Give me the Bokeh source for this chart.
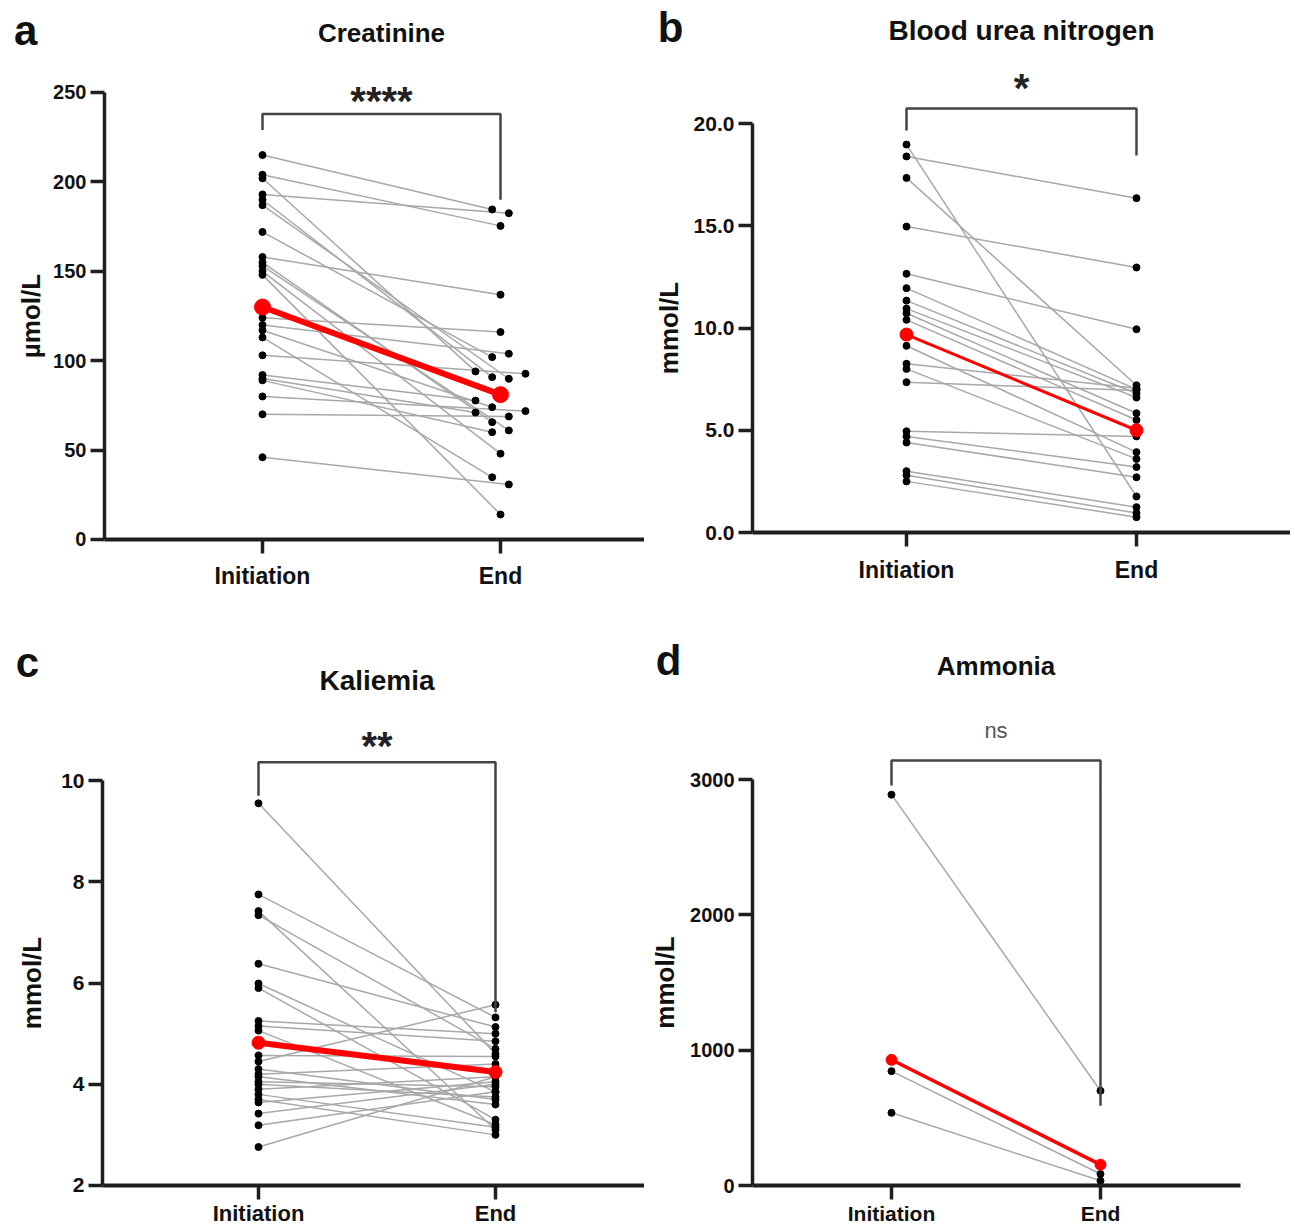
from bokeh.plotting import figure
from bokeh.models import FixedTicker, Label, Range1d, LinearAxis
from bokeh.layouts import column, row
from bokeh.embed import file_html
from bokeh.resources import INLINE

categories = ["Initiation", "End"]

# ---- a: Creatinine (µmol/L)
creat_init = [215, 204, 193, 202, 190, 187, 172, 158, 155, 153, 148, 124, 120, 117, 113, 103, 92, 90, 89, 80, 70, 46, 150]
creat_end = [184.6, 175.4, 182.5, 94, 90.8, 89.9, 102, 136.9, 65.6, 61, 14, 116, 103.9, 74, 34.8, 92.7, 77.7, 71, 60, 71.8, 68.8, 30.8, 48]
creat_end_jitter = [-0.035, 0, 0.035, -0.105, -0.035, 0.035, -0.035, 0, -0.035, 0.035, 0, 0, 0.035, -0.035, -0.035, 0.105, -0.105, -0.105, -0.035, 0.105, 0.035, 0.035, 0]
creat_mean = [130, 81]

# ---- b: Blood urea nitrogen (mmol/L)
bun_init = [18.97, 18.39, 17.34, 14.96, 12.65, 11.95, 11.34, 10.95, 10.72, 10.4, 9.13, 8.25, 8.0, 7.35, 4.95, 4.7, 4.4, 3.0, 2.8, 2.5]
bun_end = [1.76, 16.35, 7.2, 12.96, 9.94, 7.0, 6.8, 6.6, 5.83, 5.5, 3.93, 7.05, 3.6, 6.95, 4.7, 3.2, 2.7, 1.24, 0.95, 0.75]
bun_mean = [9.68, 5.0]

# ---- c: Kaliemia (mmol/L)
kal_init = [9.55, 7.75, 7.42, 7.34, 6.38, 5.99, 5.90, 5.25, 5.15, 5.06, 4.57, 4.45, 4.30, 4.20, 4.15, 4.05, 4.00, 3.90, 3.80, 3.70, 3.64, 3.42, 3.19, 2.76]
kal_end = [4.60, 5.32, 3.10, 4.70, 5.13, 3.85, 3.30, 5.00, 4.85, 3.20, 4.55, 5.57, 3.70, 4.40, 3.60, 3.95, 3.75, 4.15, 3.15, 3.00, 4.05, 4.00, 3.85, 4.15]
kal_mean = [4.82, 4.24]

# ---- d: Ammonia (mmol/L)
amm_init = [2888, 845, 537]
amm_end = [700, 85, 35]
amm_mean = [929, 154]

FONT = "Liberation Sans"
AX = "#1f1f1f"


def panel(cfg, init, end, mean, jitter):
    W, H = cfg["size"]
    p = figure(width=W, height=H, x_range=Range1d(*cfg["xr"]), y_range=Range1d(*cfg["yr"]),
               output_backend="svg", toolbar_location=None,
               x_axis_location=None, y_axis_location=None,
               min_border_left=0, min_border_right=0, min_border_top=0, min_border_bottom=0)
    p.outline_line_color = None
    p.grid.visible = False
    p.background_fill_color = "white"
    p.border_fill_color = "white"

    xe = [1 + j for j in jitter]
    xs = [[0, e] for e in xe]
    ys = [[a, b] for a, b in zip(init, end)]
    p.multi_line(xs, ys, line_color="#a8a8a8", line_width=1.5)
    p.scatter([0] * len(init), init, size=7, color="black")
    p.scatter(xe, end, size=7, color="black")
    p.line([0, 1], mean, line_color="red", line_width=cfg["red_w"])
    p.scatter([0, 1], mean, size=cfg["red_s"], color="red")

    br = cfg["bracket"]
    p.line([0, 0, 1, 1], [br[1], br[0], br[0], br[2]], line_color="#444444", line_width=2.5)

    sig_size, sig_style, sig_color = cfg["sig_style"]
    p.add_layout(Label(x=0.5, y=cfg["sig_y"], text=cfg["sig"], text_align="center",
                       text_baseline="middle", text_font=FONT, text_font_size=sig_size,
                       text_font_style=sig_style, text_color=sig_color))
    p.add_layout(Label(x=0.5, y=cfg["title_y"], text=cfg["title"], text_align="center",
                       text_baseline="middle", text_font=FONT, text_font_size=cfg["title_size"],
                       text_font_style="bold", text_color="#111111"))
    lx, ly = cfg["letter_xy"]
    p.add_layout(Label(x=lx, y=ly, text=cfg["letter"], text_align="center",
                       text_baseline="middle", text_font=FONT, text_font_size="42px",
                       text_font_style="bold", text_color="#111111"))

    yt = cfg["yticks"]
    ya = LinearAxis(fixed_location=cfg["yaxis_x"], bounds=cfg["ybounds"],
                    ticker=FixedTicker(ticks=yt),
                    major_label_overrides={t: l for t, l in zip(yt, cfg["ylabels"])},
                    axis_label=cfg["ylabel"], axis_label_text_font=FONT,
                    axis_label_text_font_size="26px", axis_label_text_font_style="bold",
                    axis_label_text_color="#111111",
                    axis_label_standoff=cfg["label_standoff"],
                    major_label_text_font=FONT, major_label_text_font_size=cfg["tick_size"],
                    major_label_text_font_style="bold", major_label_text_color="#111111",
                    major_label_standoff=4,
                    axis_line_width=3.5, axis_line_color=AX,
                    major_tick_line_width=3.5, major_tick_line_color=AX,
                    major_tick_out=14, major_tick_in=0, minor_tick_line_color=None)
    p.add_layout(ya, "left")

    xa = LinearAxis(fixed_location=cfg["ybounds"][0], bounds=(cfg["yaxis_x"], cfg["xaxis_end"]),
                    ticker=FixedTicker(ticks=[0, 1]),
                    major_label_overrides={0: categories[0], 1: categories[1]},
                    major_label_text_font=FONT, major_label_text_font_size=cfg["xlab_size"],
                    major_label_text_font_style="bold", major_label_text_color="#111111",
                    major_label_standoff=cfg["xlab_standoff"],
                    axis_line_width=4, axis_line_color=AX,
                    major_tick_line_width=3.5, major_tick_line_color=AX,
                    major_tick_out=14, major_tick_in=0, minor_tick_line_color=None)
    p.add_layout(xa, "below")
    return p


cfg_a = dict(size=(644, 600), xr=(-1.1008, 1.6050), yr=(-34.12, 301.45),
             yaxis_x=-0.6639, xaxis_end=1.605, ybounds=(0, 250),
             yticks=[0, 50, 100, 150, 200, 250], ylabels=["0", "50", "100", "150", "200", "250"],
             ylabel="µmol/L", label_standoff=4, tick_size="20px", xlab_size="23px", xlab_standoff=10,
             bracket=(238, 229, 190), sig="****", sig_y=245.0, sig_style=("40px", "bold", "#222222"),
             title="Creatinine", title_y=283, title_size="26px",
             letter="a", letter_xy=(-0.995, 284.7), red_w=6, red_s=16)

cfg_b = dict(size=(646, 600), xr=(-1.1391, 1.6696), yr=(-3.325, 26.015),
             yaxis_x=-0.6696, xaxis_end=1.6696, ybounds=(0, 20),
             yticks=[0, 5, 10, 15, 20], ylabels=["0.0", "5.0", "10.0", "15.0", "20.0"],
             ylabel="mmol/L", label_standoff=7, tick_size="21px", xlab_size="23px", xlab_standoff=10,
             bracket=(20.73, 19.66, 18.43), sig="*", sig_y=21.75, sig_style=("40px", "bold", "#222222"),
             title="Blood urea nitrogen", title_y=24.55, title_size="28px",
             letter="b", letter_xy=(-1.026, 24.7), red_w=3, red_s=13)

cfg_c = dict(size=(644, 630), xr=(-1.0886, 1.6287), yr=(1.111, 13.556),
             yaxis_x=-0.6582, xaxis_end=1.6287, ybounds=(2, 10),
             yticks=[2, 4, 6, 8, 10], ylabels=["2", "4", "6", "8", "10"],
             ylabel="mmol/L", label_standoff=11, tick_size="21px", xlab_size="22px", xlab_standoff=2,
             bracket=(10.36, 9.7, 5.42), sig="**", sig_y=10.69, sig_style=("40px", "bold", "#222222"),
             title="Kaliemia", title_y=11.98, title_size="28px",
             letter="c", letter_xy=(-0.975, 12.33), red_w=6, red_s=13)

cfg_d = dict(size=(646, 630), xr=(-1.1818, 1.9091), yr=(-332.5, 4322.8),
             yaxis_x=-0.665, xaxis_end=1.67, ybounds=(0, 3000),
             yticks=[0, 1000, 2000, 3000], ylabels=["0", "1000", "2000", "3000"],
             ylabel="mmol/L", label_standoff=7, tick_size="20px", xlab_size="21px", xlab_standoff=2,
             bracket=(3140, 2955, 590), sig="ns", sig_y=3362, sig_style=("22px", "normal", "#555555"),
             title="Ammonia", title_y=3842, title_size="26px",
             letter="d", letter_xy=(-1.067, 3880), red_w=3.5, red_s=11)

pa = panel(cfg_a, creat_init, creat_end, creat_mean, creat_end_jitter)
pb = panel(cfg_b, bun_init, bun_end, bun_mean, [0] * len(bun_init))
pc = panel(cfg_c, kal_init, kal_end, kal_mean, [0] * len(kal_init))
pd_ = panel(cfg_d, amm_init, amm_end, amm_mean, [0] * len(amm_init))

layout = column(row(pa, pb), row(pc, pd_))
open("out.html", "w").write(file_html(layout, INLINE))
